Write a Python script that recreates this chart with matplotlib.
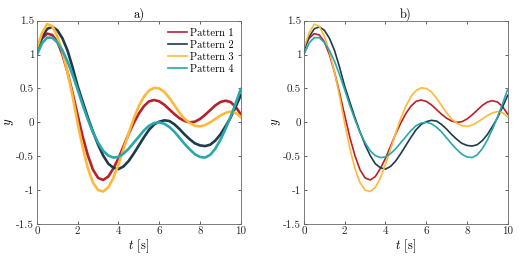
import numpy as np
import matplotlib

matplotlib.use("Agg")
import matplotlib.pyplot as plt
from matplotlib.ticker import FuncFormatter

plt.rcParams["font.family"] = "cmr10"
plt.rcParams["mathtext.fontset"] = "cm"
plt.rcParams["axes.formatter.use_mathtext"] = True

# sample times (s) and responses
t = np.arange(0, 10.01, 0.25)

pattern1 = [1.10, 1.24, 1.31, 1.29, 1.19, 1.00, 0.74, 0.43, 0.10, -0.22,
            -0.49, -0.70, -0.82, -0.85, -0.80, -0.68, -0.53, -0.35, -0.17, -0.01,
            0.13, 0.24, 0.31, 0.33, 0.31, 0.26, 0.19, 0.12, 0.06, 0.02,
            0.00, 0.01, 0.05, 0.11, 0.18, 0.25, 0.30, 0.32, 0.30, 0.23, 0.12]
pattern2 = [1.06, 1.26, 1.38, 1.41, 1.36, 1.24, 1.06, 0.81, 0.53, 0.30,
            0.07, -0.14, -0.33, -0.49, -0.61, -0.67, -0.69, -0.65, -0.57, -0.46,
            -0.34, -0.22, -0.11, -0.03, 0.01, 0.03, 0.02, -0.03, -0.10, -0.18,
            -0.25, -0.31, -0.34, -0.35, -0.33, -0.27, -0.18, -0.06, 0.07, 0.23, 0.40]
pattern3 = [1.10, 1.32, 1.45, 1.42, 1.27, 1.04, 0.74, 0.38, -0.02, -0.38,
            -0.68, -0.89, -1.00, -1.02, -0.96, -0.82, -0.62, -0.39, -0.16, 0.06,
            0.24, 0.38, 0.47, 0.51, 0.50, 0.45, 0.36, 0.25, 0.14, 0.05,
            -0.01, -0.05, -0.06, -0.04, 0.00, 0.05, 0.10, 0.14, 0.16, 0.14, 0.08]
pattern4 = [1.00, 1.17, 1.25, 1.25, 1.18, 1.06, 0.90, 0.70, 0.48, 0.25,
            0.04, -0.15, -0.30, -0.42, -0.49, -0.52, -0.51, -0.46, -0.39, -0.30,
            -0.21, -0.12, -0.05, -0.01, 0.00, -0.02, -0.07, -0.14, -0.23, -0.32,
            -0.40, -0.47, -0.51, -0.52, -0.48, -0.39, -0.26, -0.10, 0.08, 0.28, 0.49]

series = [pattern1, pattern2, pattern3, pattern4]
labels = ["Pattern 1", "Pattern 2", "Pattern 3", "Pattern 4"]
colors = ["#B8202A", "#1F3B4A", "#FDB93C", "#2AA7AB"]

xticks = [0, 2, 4, 6, 8, 10]
yticks = [-1.5, -1, -0.5, 0, 0.5, 1, 1.5]

fig = plt.figure(figsize=(5.32, 2.56), dpi=100)
ax_a = fig.add_axes([0.0695, 0.125, 0.383, 0.794])
ax_b = fig.add_axes([0.5714, 0.125, 0.383, 0.794])

for ax, title, lw in [(ax_a, "a)", 1.9), (ax_b, "b)", 1.2)]:
    for y, lab, c in zip(series, labels, colors):
        ax.plot(t, y, color=c, lw=lw, label=lab)
    ax.set_xlim(0, 10)
    ax.set_ylim(-1.5, 1.5)
    ax.set_xticks(xticks)
    ax.set_yticks(yticks)
    fmt = FuncFormatter(lambda v, p: "%g" % v)
    ax.xaxis.set_major_formatter(fmt)
    ax.yaxis.set_major_formatter(fmt)
    ax.tick_params(direction="in", top=True, right=True, length=2.5,
                   width=0.5, labelsize=8, colors="#262626", pad=2)
    for s in ax.spines.values():
        s.set_color("#666666")
        s.set_linewidth(0.6)
    ax.set_xlabel(r"$t$ [s]", fontsize=9, labelpad=1)
    ax.set_ylabel(r"$y$", fontsize=9, labelpad=0)
    ax.set_title(title, fontsize=9, pad=2)

leg = ax_a.legend(loc="upper right", frameon=False, fontsize=7.5,
                  handlelength=1.8, handletextpad=0.3, labelspacing=0.25,
                  borderaxespad=0.3)
for h in leg.get_lines():
    h.set_linewidth(1.2)

fig.savefig("out.png", dpi=100)
